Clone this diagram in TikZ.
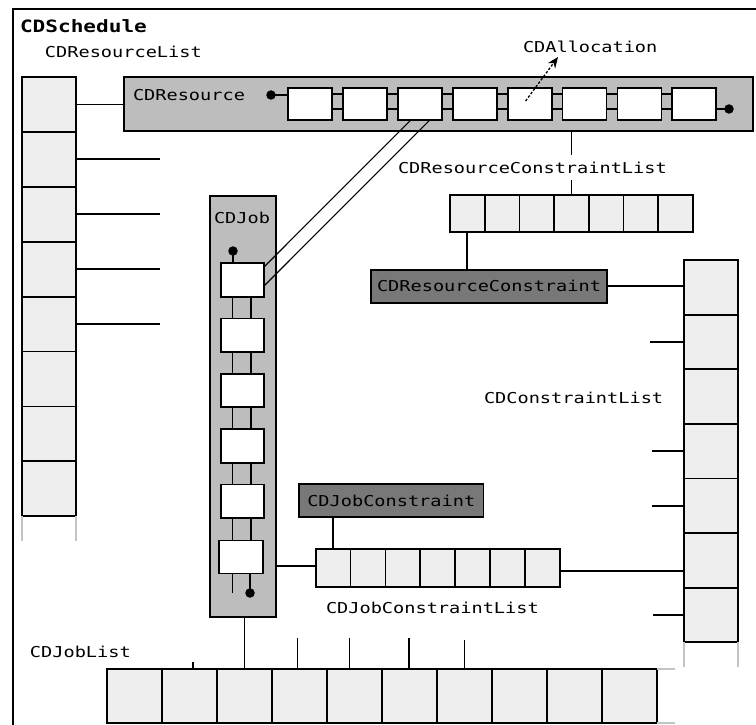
\documentclass[tikz,border=0pt]{standalone}
\usepackage{fontspec}
\newfontfamily\cdmono[FakeStretch=1.24]{DejaVu Sans Mono}
\usetikzlibrary{arrows.meta,calc}
\definecolor{cellgray}{HTML}{EEEEEE}
\definecolor{midgray}{HTML}{BDBDBD}
\definecolor{darkgray}{HTML}{787878}
\definecolor{faintgray}{HTML}{C4C4C4}
\tikzset{
  lbl/.style={anchor=base west, inner sep=0pt, outer sep=0pt, font=\cdmono\fontsize{15}{18}\selectfont},
  cellbase/.style={draw, line width=1.8pt, inner sep=0pt, outer sep=0pt},
  listcell/.style={cellbase, fill=cellgray},
  linkcell/.style={cellbase, fill=white},
  bigbox/.style={cellbase, fill=midgray},
  darkbox/.style={cellbase, fill=darkgray, font=\cdmono\fontsize{15}{18}\selectfont},
  dotnode/.style={circle, fill=black, draw=none, inner sep=0pt, minimum size=9.5pt},
  faint/.style={draw=faintgray, line width=1.5pt},
  thinlink/.style={line width=1.1pt},
  allocarrow/.style={line width=1.3pt, dash pattern=on 2.5pt off 1.8pt, -{Stealth[length=11pt,width=9pt]}}
}
\begin{document}
\begin{tikzpicture}[x=1pt,y=-1pt,line width=1.8pt]
\useasboundingbox (0,0) rectangle (756,725);
% outer frame
\draw[line width=2.2pt] (13,725) -- (13,9) -- (756,9);
\node[lbl, font=\cdmono\bfseries\fontsize{17}{20}\selectfont] (title) at (20,33) {CDSchedule};
\node[lbl] (rllbl) at (45,58) {CDResourceList};

% CDResourceList (left column)
\foreach \i in {1,...,8}
  \node[listcell, minimum width=54pt, minimum height=54.9pt] (rl\i) at (49,{104.45+(\i-1)*54.9}) {};
\draw[faint] (rl8.south west) -- ++(0,25);
\draw[faint] (rl8.south east) -- ++(0,25);

% CDResource
\node[bigbox, minimum width=629pt, minimum height=54pt] (res) at (438.5,104) {};
\node[lbl] (reslbl) at (133,100) {CDResource};
\draw (rl1.east) -- (rl1.east -| res.west);
\foreach \i in {2,...,5} \draw (rl\i.east) -- ++(84,0);

% CDJob
\node[bigbox, minimum width=66pt, minimum height=421pt] (job) at (242.6,406.2) {};
\node[lbl] (joblbl) at (214,223) {CDJob};

% allocation cells
\foreach \i in {1,...,8}
  \node[linkcell, minimum width=44pt, minimum height=32pt] (a\i) at ({310+(\i-1)*54.9},104) {};
\foreach \i [count=\j from 2] in {1,...,7} {
  \draw (a\i.east |- 0,94) -- (a\j.west |- 0,94);
  \draw (a\i.east |- 0,109) -- (a\j.west |- 0,109);
}
\node[dotnode] (ldot) at (271,95) {};
\draw (ldot.center) -- (a1.west |- ldot.center);
\node[dotnode] (rdot) at (729,109) {};
\draw (a8.east |- rdot.center) -- (rdot.center);

% CDAllocation label and arrow
\node[lbl] (alloc) at (523,53) {CDAllocation};
\draw[allocarrow] ($(a5.center)+(-4,-3)$) -- ($(alloc.base west)+(35,4)$);

% job cells
\foreach \i in {1,...,5}
  \node[linkcell, minimum width=43pt, minimum height=33.5pt] (j\i) at (242.5,{280+(\i-1)*55.3}) {};
\node[linkcell, minimum width=43.5pt, minimum height=33pt] (j6) at (240.9,557) {};
\foreach \i [count=\j from 2] in {1,...,5} {
  \draw (j\i.south -| 232.5,0) -- (j\j.north -| 232.5,0);
  \draw (j\i.south -| 250.6,0) -- (j\j.north -| 250.6,0);
}
\node[dotnode] (tdot) at (233,251) {};
\draw (tdot.center) -- (j1.north -| tdot.center);
\draw (j6.south -| 232.5,0) -- ++(0,19.5);
\node[dotnode] (bdot) at (250,593) {};
\draw (j6.south -| bdot.center) -- (bdot.center);

% double link allocation <-> job cell
\draw[thinlink] ($(a3.south)+(-9,0)$) -- ($(j1.east)+(0,-13)$);
\draw[thinlink] ($(a3.south)+(10,0)$) -- ($(j1.east)+(0,6)$);

% CDResourceConstraintList
\node[lbl] (rcllbl) at (398,173) {CDResourceConstraintList};
\foreach \i in {1,...,7}
  \node[listcell, minimum width=34.7pt, minimum height=37pt] (rc\i) at ({467.35+(\i-1)*34.7},213.5) {};
\draw (res.south -| rc4.north) -- ++(0,24);
\draw (rc4.north) -- ++(0,-15);

% CDResourceConstraint
\node[darkbox, minimum width=236pt, minimum height=32.7pt] (rcon) at (489,286.3) {CDResourceConstraint};
\draw (rc1.south) -- (rc1.south |- rcon.north);

% CDConstraintList (right column)
\foreach \i in {1,...,7}
  \node[listcell, minimum width=54pt, minimum height=54.6pt] (cl\i) at (711,{287.3+(\i-1)*54.6}) {};
\draw[faint] (cl7.south west) -- ++(0,24.5);
\draw[faint] (cl7.south east) -- ++(0,24.5);
\node[lbl] (cllbl) at (484,403) {CDConstraintList};
\draw (rcon.east) -- (rcon.east -| cl1.west);
\draw (cl2.west) -- ++(-34,0);
\draw (cl4.west) -- ++(-32,0);
\draw (cl5.west) -- ++(-32,0);
\draw (cl7.west) -- ++(-31,0);

% CDJobConstraint and list
\node[darkbox, minimum width=184.5pt, minimum height=32.4pt] (jcon) at (391.25,500.5) {CDJobConstraint};
\foreach \i in {1,...,7}
  \node[listcell, minimum width=34.9pt, minimum height=37.4pt] (jcl\i) at ({333.05+(\i-1)*34.9},568) {};
\draw (jcl1.north) -- (jcl1.north |- jcon.south);
\draw (job.east |- 0,566) -- (jcl1.west |- 0,566);
\draw (jcl7.east |- 0,570.7) -- (cl6.west |- 0,570.7);
\node[lbl] (jcllbl) at (326,613) {CDJobConstraintList};

% CDJobList
\node[lbl] (jllbl) at (30,657) {CDJobList};
\foreach \i in {1,...,10}
  \node[listcell, minimum width=55pt, minimum height=54pt] (jl\i) at ({134.5+(\i-1)*55},696) {};
\draw[faint] (jl10.north east) -- ++(18,0);
\draw[faint] (jl10.south east) -- ++(18,0);
\draw (jl3.north) -- (jl3.north |- job.south);
\draw ($(jl2.north)+(3.5,0)$) -- ++(0,-7);
\draw ($(jl4.north)+(-2,0)$) -- ++(0,-31);
\draw ($(jl5.north)+(-5,0)$) -- ++(0,-31);
\draw ($(jl6.north)+(-0.5,0)$) -- ++(0,-31);
\draw (jl7.north) -- ++(0,-29);
\end{tikzpicture}
\end{document}
